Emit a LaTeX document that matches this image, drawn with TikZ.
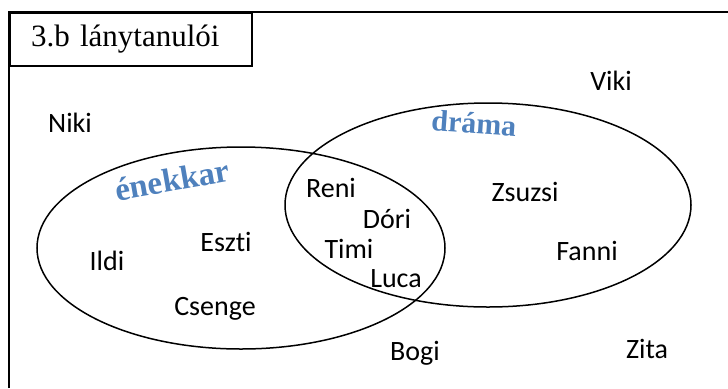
\documentclass[tikz,border=0pt]{standalone}
\usepackage{fontspec}
\setmainfont{Liberation Serif}
\newfontfamily\namefont[Ligatures=NoCommon]{Carlito}
\usetikzlibrary{shapes.geometric}
\definecolor{wordblue}{HTML}{4F81BD}

\begin{document}
\begin{tikzpicture}
	[x=1bp,y=-1bp,
	 girl/.style={font=\namefont\fontsize{28bp}{30bp}\selectfont,inner sep=0pt,anchor=base},
	 club/.style={font=\bfseries\fontsize{30bp}{32bp}\selectfont,text=wordblue,inner sep=0pt},
	 set/.style={ellipse,draw,line width=1.5bp,inner sep=0pt},
	 titlebox/.style={draw,line width=2bp,anchor=north west,minimum height=53bp,
	   inner xsep=21bp,text width=200bp,align=left,font=\fontsize{31bp}{33bp}\selectfont}]
    \useasboundingbox (0,0) rectangle (728,388);
    \draw[line width=2bp] (9,388) -- (9,12) -- (728,12);
    \node[titlebox] (title) at (9,12) {3.b lánytanulói};

    \node[set,minimum width=408bp,minimum height=202bp] (enekkar) at (241,248) {};
    \node[set,minimum width=406bp,minimum height=204bp] (drama) at (488,205) {};

    \node[club,rotate=10,font=\bfseries\fontsize{33bp}{35bp}\selectfont] (enekkarlabel) at (172,180) {énekkar};
    \node[club,rotate=-4] (dramalabel) at (474,123) {dráma};

    \node[girl] (niki) at (70,132) {Niki};
    \node[girl] (viki) at (611,90) {Viki};
    \node[girl] (reni) at (331,197) {Reni};
    \node[girl] (dori) at (387,228) {Dóri};
    \node[girl] (timi) at (349,258) {Timi};
    \node[girl] (luca) at (396,287) {Luca};
    \node[girl] (zsuzsi) at (525,201) {Zsuzsi};
    \node[girl] (fanni) at (587,260) {Fanni};
    \node[girl] (eszti) at (226,251) {Eszti};
    \node[girl] (ildi) at (107,270) {Ildi};
    \node[girl] (csenge) at (215,315) {Csenge};
    \node[girl] (bogi) at (415,360) {Bogi};
    \node[girl] (zita) at (647,358) {Zita};

\end{tikzpicture}
\end{document}
